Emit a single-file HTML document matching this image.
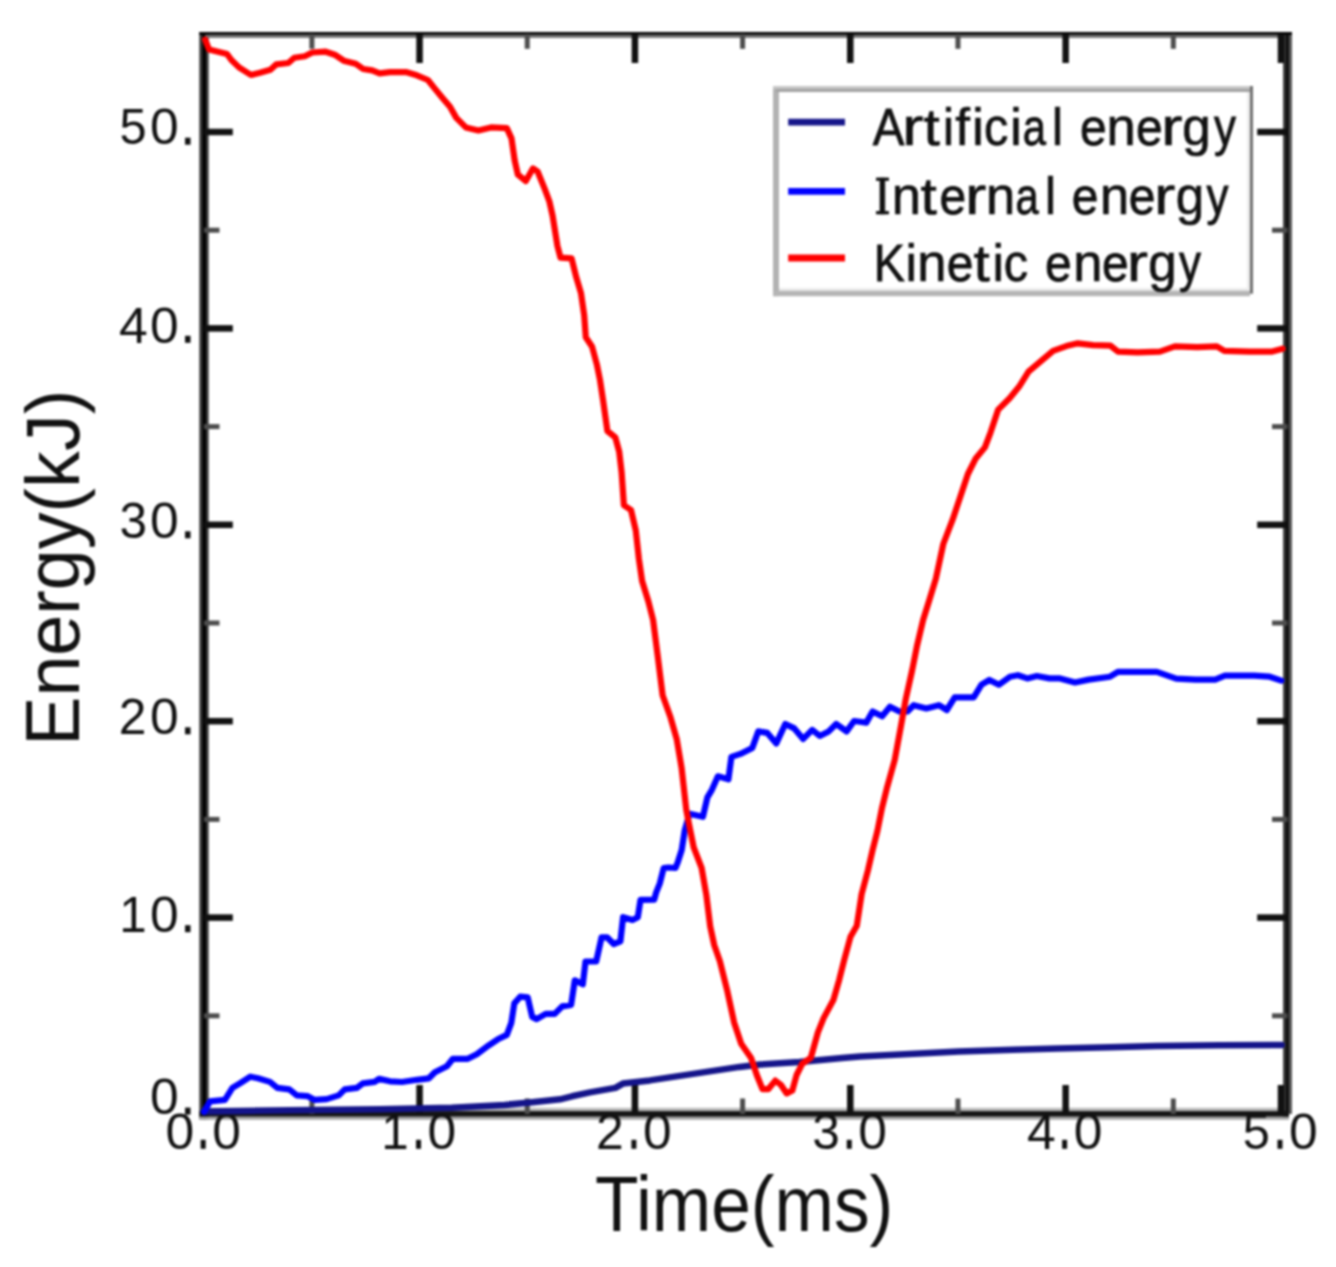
<!DOCTYPE html>
<html><head><meta charset="utf-8"><style>
html,body{margin:0;padding:0;background:#fff;}
body{width:1336px;height:1267px;overflow:hidden;}
svg{display:block;font-family:"Liberation Sans",sans-serif;}
</style></head><body>
<svg width="1336" height="1267" viewBox="0 0 1336 1267">
<defs><filter id="b" x="0" y="0" width="1" height="1" color-interpolation-filters="sRGB"><feGaussianBlur stdDeviation="1.0"/></filter></defs>
<rect x="0" y="0" width="1336" height="1267" fill="#fff"/>
<g filter="url(#b)">
<rect x="0" y="0" width="1336" height="1267" fill="#fff"/>
<g>
<rect x="199.3" y="32" width="9.4" height="1087.5" fill="#3a3a3a"/>
<rect x="202.4" y="32" width="3.6" height="1087.5" fill="#000"/>
<rect x="1283.1" y="32" width="3" height="1085" fill="#333"/>
<rect x="1286.1" y="32" width="2.8" height="1085" fill="#000"/>
<rect x="1288.9" y="32" width="3.1" height="1082" fill="#555"/>
<rect x="199.3" y="32" width="1092.7" height="2.9" fill="#050505"/>
<rect x="205" y="34.9" width="1078" height="3" fill="#717171"/>
<rect x="205" y="1107.8" width="1078" height="3.3" fill="#bbb"/>
<rect x="199.3" y="1111.1" width="1089.6" height="5.7" fill="#151515"/>
<rect x="199.3" y="1116.8" width="1089.6" height="3" fill="#a6a6a6"/>
<rect x="309.38" y="1098.50" width="5" height="15.50" fill="#4d4d4d"/>
<rect x="309.38" y="34.00" width="5" height="14.80" fill="#4d4d4d"/>
<rect x="416.31" y="1085.00" width="6.5" height="29.00" fill="#111"/>
<rect x="416.31" y="34.00" width="6.5" height="29.00" fill="#111"/>
<rect x="524.74" y="1098.50" width="5" height="15.50" fill="#4d4d4d"/>
<rect x="524.74" y="34.00" width="5" height="14.80" fill="#4d4d4d"/>
<rect x="631.67" y="1085.00" width="6.5" height="29.00" fill="#111"/>
<rect x="631.67" y="34.00" width="6.5" height="29.00" fill="#111"/>
<rect x="740.10" y="1098.50" width="5" height="15.50" fill="#4d4d4d"/>
<rect x="740.10" y="34.00" width="5" height="14.80" fill="#4d4d4d"/>
<rect x="847.03" y="1085.00" width="6.5" height="29.00" fill="#111"/>
<rect x="847.03" y="34.00" width="6.5" height="29.00" fill="#111"/>
<rect x="955.46" y="1098.50" width="5" height="15.50" fill="#4d4d4d"/>
<rect x="955.46" y="34.00" width="5" height="14.80" fill="#4d4d4d"/>
<rect x="1062.39" y="1085.00" width="6.5" height="29.00" fill="#111"/>
<rect x="1062.39" y="34.00" width="6.5" height="29.00" fill="#111"/>
<rect x="1170.82" y="1098.50" width="5" height="15.50" fill="#4d4d4d"/>
<rect x="1170.82" y="34.00" width="5" height="14.80" fill="#4d4d4d"/>
<rect x="1277.75" y="1085.00" width="6.5" height="29.00" fill="#111"/>
<rect x="1277.75" y="34.00" width="6.5" height="29.00" fill="#111"/>
<rect x="204.00" y="1013.30" width="15.50" height="5" fill="#4d4d4d"/>
<rect x="1272.00" y="1013.30" width="15.50" height="5" fill="#4d4d4d"/>
<rect x="204.00" y="914.35" width="28.80" height="6.5" fill="#111"/>
<rect x="1257.20" y="914.35" width="30.30" height="6.5" fill="#111"/>
<rect x="204.00" y="816.90" width="15.50" height="5" fill="#4d4d4d"/>
<rect x="1272.00" y="816.90" width="15.50" height="5" fill="#4d4d4d"/>
<rect x="204.00" y="717.95" width="28.80" height="6.5" fill="#111"/>
<rect x="1257.20" y="717.95" width="30.30" height="6.5" fill="#111"/>
<rect x="204.00" y="620.50" width="15.50" height="5" fill="#4d4d4d"/>
<rect x="1272.00" y="620.50" width="15.50" height="5" fill="#4d4d4d"/>
<rect x="204.00" y="521.55" width="28.80" height="6.5" fill="#111"/>
<rect x="1257.20" y="521.55" width="30.30" height="6.5" fill="#111"/>
<rect x="204.00" y="424.10" width="15.50" height="5" fill="#4d4d4d"/>
<rect x="1272.00" y="424.10" width="15.50" height="5" fill="#4d4d4d"/>
<rect x="204.00" y="325.15" width="28.80" height="6.5" fill="#111"/>
<rect x="1257.20" y="325.15" width="30.30" height="6.5" fill="#111"/>
<rect x="204.00" y="227.70" width="15.50" height="5" fill="#4d4d4d"/>
<rect x="1272.00" y="227.70" width="15.50" height="5" fill="#4d4d4d"/>
<rect x="204.00" y="128.75" width="28.80" height="6.5" fill="#111"/>
<rect x="1257.20" y="128.75" width="30.30" height="6.5" fill="#111"/>
</g>
<g fill="#111">
<text transform="translate(133.01,144.40) scale(0.985,1)" x="-13.72" font-size="49.5" fill="#111">5</text>
<text transform="translate(164.42,144.40) scale(1.043,1)" x="-13.76" font-size="49.5" fill="#111">0</text>
<rect x="185.04" y="137.70" width="5.5" height="7.0" fill="#111"/>
<text transform="translate(133.08,342.50) scale(1.044,1)" x="-13.61" font-size="49.5" fill="#111">4</text>
<text transform="translate(164.42,342.50) scale(1.043,1)" x="-13.76" font-size="49.5" fill="#111">0</text>
<rect x="185.04" y="335.80" width="5.5" height="7.0" fill="#111"/>
<text transform="translate(133.17,538.00) scale(1.002,1)" x="-13.62" font-size="49.5" fill="#111">3</text>
<text transform="translate(164.42,538.00) scale(1.043,1)" x="-13.76" font-size="49.5" fill="#111">0</text>
<rect x="185.04" y="531.30" width="5.5" height="7.0" fill="#111"/>
<text transform="translate(132.60,734.00) scale(1.006,1)" x="-13.76" font-size="49.5" fill="#111">2</text>
<text transform="translate(164.42,734.00) scale(1.043,1)" x="-13.76" font-size="49.5" fill="#111">0</text>
<rect x="185.04" y="727.30" width="5.5" height="7.0" fill="#111"/>
<text transform="translate(133.69,931.90) scale(0.997,1)" x="-14.44" font-size="49.5" fill="#111">1</text>
<text transform="translate(164.42,931.90) scale(1.043,1)" x="-13.76" font-size="49.5" fill="#111">0</text>
<rect x="185.04" y="925.20" width="5.5" height="7.0" fill="#111"/>
<text transform="translate(164.42,1114.30) scale(1.043,1)" x="-13.76" font-size="49.5" fill="#111">0</text>
<rect x="185.04" y="1107.60" width="5.5" height="7.0" fill="#111"/>
<text transform="translate(179.81,1148.50) scale(1.043,1)" x="-13.76" font-size="49.5" fill="#111">0</text>
<rect x="200.68" y="1139.80" width="5.0" height="9.0" fill="#111"/>
<text transform="translate(226.56,1148.50) scale(1.043,1)" x="-13.76" font-size="49.5" fill="#111">0</text>
<text transform="translate(395.62,1148.50) scale(0.997,1)" x="-14.44" font-size="49.5" fill="#111">1</text>
<rect x="416.04" y="1139.80" width="5.0" height="9.0" fill="#111"/>
<text transform="translate(441.92,1148.50) scale(1.043,1)" x="-13.76" font-size="49.5" fill="#111">0</text>
<text transform="translate(609.89,1148.50) scale(1.006,1)" x="-13.76" font-size="49.5" fill="#111">2</text>
<rect x="631.40" y="1139.80" width="5.0" height="9.0" fill="#111"/>
<text transform="translate(657.28,1148.50) scale(1.043,1)" x="-13.76" font-size="49.5" fill="#111">0</text>
<text transform="translate(825.81,1148.50) scale(1.002,1)" x="-13.62" font-size="49.5" fill="#111">3</text>
<rect x="846.76" y="1139.80" width="5.0" height="9.0" fill="#111"/>
<text transform="translate(872.64,1148.50) scale(1.043,1)" x="-13.76" font-size="49.5" fill="#111">0</text>
<text transform="translate(1041.09,1148.50) scale(1.044,1)" x="-13.61" font-size="49.5" fill="#111">4</text>
<rect x="1062.12" y="1139.80" width="5.0" height="9.0" fill="#111"/>
<text transform="translate(1088.00,1148.50) scale(1.043,1)" x="-13.76" font-size="49.5" fill="#111">0</text>
<text transform="translate(1256.37,1148.50) scale(0.985,1)" x="-13.72" font-size="49.5" fill="#111">5</text>
<rect x="1277.48" y="1139.80" width="5.0" height="9.0" fill="#111"/>
<text transform="translate(1303.36,1148.50) scale(1.043,1)" x="-13.76" font-size="49.5" fill="#111">0</text>
<text transform="translate(595.1,1230.5) scale(0.926,1)" font-size="77">Time(ms)</text>
<text transform="translate(79,745.7) rotate(-90) scale(0.974,1)" font-size="75.6">Energy(kJ)</text>
</g>
<g fill="none" stroke-linejoin="round" stroke-linecap="round">
<polyline points="204.0,1111.5 290.0,1110.2 380.0,1109.3 451.9,1107.8 504.6,1104.9 530.0,1102.6 560.0,1099.3 572.0,1096.3 589.9,1092.4 615.4,1087.9 622.9,1083.6 649.8,1080.4 679.8,1075.9 709.7,1071.4 739.6,1066.9 760.0,1064.6 799.4,1062.0 842.1,1058.0 860.0,1056.6 958.8,1051.6 1057.6,1048.4 1110.0,1047.3 1156.4,1046.0 1220.0,1045.2 1281.6,1044.9" stroke="#14148a" stroke-width="6.5"/>
<polyline points="204.0,1111.9 210.0,1101.4 224.9,1099.9 232.4,1087.9 239.9,1083.4 250.4,1076.7 257.9,1078.2 269.9,1081.9 277.3,1087.9 289.3,1089.4 296.8,1095.4 307.3,1096.1 314.8,1099.9 326.7,1099.1 338.7,1095.4 344.7,1089.4 356.7,1087.9 362.7,1083.4 374.6,1081.9 379.1,1078.9 390.0,1081.3 402.0,1082.0 416.9,1079.8 428.9,1078.3 434.9,1072.3 446.9,1066.3 452.9,1058.8 467.8,1058.8 476.8,1054.3 488.8,1045.3 497.8,1039.3 506.8,1034.9 511.3,1022.9 514.3,1003.4 520.2,996.7 527.7,997.4 532.2,1016.9 536.7,1019.1 545.7,1013.9 554.7,1013.9 562.2,1006.4 571.1,1004.9 574.8,980.3 582.8,984.3 585.5,961.5 596.2,961.5 601.6,937.3 607.0,937.3 613.7,944.0 620.4,941.4 623.1,917.2 632.5,919.9 637.8,917.2 640.5,899.8 654.2,899.7 656.1,892.6 659.9,883.1 663.7,868.0 668.4,867.5 675.5,868.0 677.9,861.8 681.7,850.0 684.8,830.0 689.5,813.8 702.9,816.8 707.4,797.3 711.9,789.8 717.9,776.3 728.4,779.3 731.4,756.9 740.4,753.9 752.3,747.9 758.3,731.4 767.3,732.9 776.3,743.4 785.3,724.0 794.3,728.4 803.2,738.9 812.2,729.9 819.7,735.9 828.7,731.4 836.2,724.0 846.6,731.4 854.1,721.0 860.0,721.8 866.3,722.6 872.6,711.5 882.1,716.3 890.0,706.8 899.5,711.5 907.4,711.5 913.7,705.2 926.3,708.4 938.9,705.2 946.8,710.0 954.7,697.3 973.7,697.3 981.5,684.7 989.4,680.0 998.9,684.7 1010.0,676.8 1017.9,675.2 1027.3,678.4 1036.8,676.0 1049.4,678.4 1060.0,678.4 1075.0,682.5 1088.7,679.6 1110.0,676.7 1117.9,671.8 1137.3,671.8 1156.8,671.8 1176.2,678.7 1195.7,679.6 1215.2,679.6 1224.9,675.7 1254.1,675.7 1269.7,676.7 1281.3,680.6" stroke="#0000ff" stroke-width="6.2"/>
<polyline points="205.2,39.7 209.0,49.5 218.0,51.7 227.0,54.0 231.4,60.0 239.0,67.4 251.0,75.0 260.0,72.7 270.4,69.7 276.3,64.4 288.3,63.0 294.3,57.7 304.8,56.2 312.3,52.5 325.7,51.7 334.7,54.7 343.7,60.7 355.7,63.7 363.2,69.0 372.2,70.4 379.6,73.4 390.0,72.1 405.8,72.1 416.8,75.3 427.9,80.0 434.2,87.9 442.1,97.4 450.0,106.8 456.3,117.9 465.8,127.4 478.4,130.5 491.0,127.4 506.8,128.1 511.5,138.4 514.7,160.5 517.9,174.7 525.8,181.0 532.9,168.4 537.6,171.5 544.7,188.9 549.4,201.5 552.6,215.7 557.4,245.8 560.5,257.6 571.6,258.4 576.3,277.4 581.0,293.1 584.2,315.2 585.8,337.3 592.1,346.8 596.8,364.2 600.0,380.0 603.1,400.5 607.4,431.0 615.3,437.4 619.2,451.6 621.6,472.1 623.9,505.2 631.0,510.0 635.8,530.5 638.9,558.9 642.1,581.0 648.4,601.5 653.1,620.0 657.9,657.4 662.6,695.2 670.5,717.3 676.8,739.4 681.6,767.9 686.3,810.0 688.9,823.7 693.7,847.4 701.6,867.9 706.3,894.7 710.2,926.3 714.2,945.0 719.9,961.3 727.0,989.7 734.1,1022.4 741.2,1043.7 751.1,1057.9 756.8,1075.0 762.5,1089.2 768.2,1089.2 775.3,1080.6 781.0,1084.9 786.7,1093.4 792.3,1090.6 796.6,1075.0 802.3,1063.6 810.8,1057.9 817.9,1032.3 823.6,1018.1 833.5,999.7 839.2,979.8 844.2,960.0 850.5,936.8 856.8,925.7 861.6,894.2 867.9,870.5 872.6,850.0 877.4,831.0 882.1,807.4 886.8,788.4 894.7,760.0 901.0,725.7 905.8,698.9 912.1,670.5 916.8,646.8 923.1,620.0 929.5,599.5 935.8,578.9 943.3,544.0 952.7,519.4 960.3,496.7 967.9,474.0 975.5,458.8 984.9,447.4 990.6,432.3 998.2,409.6 1009.6,398.2 1019.0,386.8 1028.5,371.7 1041.8,360.3 1053.1,350.8 1066.4,346.1 1077.8,343.3 1092.9,345.2 1110.5,345.7 1118.0,351.6 1137.4,352.4 1159.9,351.6 1174.9,346.4 1197.3,347.2 1216.8,346.4 1224.3,350.9 1249.7,351.6 1272.2,351.6 1282.6,348.7" stroke="#ff0000" stroke-width="6.2"/>
</g>
<rect x="773" y="86" width="480" height="210.2" fill="#fff"/>
<rect x="773" y="86" width="6" height="210.2" fill="#b2b2b2"/>
<rect x="773" y="86" width="480" height="3" fill="#c6c6c6"/>
<rect x="776" y="89" width="474" height="3" fill="#a2a2a2"/>
<rect x="1250" y="86" width="3" height="207.7" fill="#707070"/>
<rect x="779" y="288" width="468" height="2.8" fill="#ececec"/>
<rect x="1247" y="92" width="3" height="198.8" fill="#ececec"/>
<rect x="773" y="290.8" width="477" height="5.4" fill="#b5b5b5"/>
<g stroke-width="6.8">
<line x1="788.2" y1="122.2" x2="845" y2="122.2" stroke="#16168a"/>
<line x1="788.2" y1="191.3" x2="845" y2="191.3" stroke="#0000ff"/>
<line x1="788.2" y1="258" x2="845" y2="258" stroke="#ff0000"/>
</g>
<text transform="translate(888.60,144.50) scale(0.921,1)" x="-17.21" font-size="51.6" fill="#111" stroke="#111" stroke-width="0.76">A</text>
<text transform="translate(914.50,144.50) scale(1.240,1)" x="-9.88" font-size="51.6" fill="#111" stroke="#111" stroke-width="0.56">r</text>
<text transform="translate(932.00,144.50) scale(1.138,1)" x="-7.37" font-size="51.6" fill="#111" stroke="#111" stroke-width="0.61">t</text>
<text transform="translate(948.50,144.50) scale(1.000,1)" x="-5.72" font-size="51.6" fill="#111" stroke="#111" stroke-width="0.70">i</text>
<text transform="translate(963.00,144.50) scale(1.023,1)" x="-7.57" font-size="51.6" fill="#111" stroke="#111" stroke-width="0.68">f</text>
<text transform="translate(977.90,144.50) scale(1.000,1)" x="-5.72" font-size="51.6" fill="#111" stroke="#111" stroke-width="0.70">i</text>
<text transform="translate(996.60,144.50) scale(0.944,1)" x="-13.32" font-size="51.6" fill="#111" stroke="#111" stroke-width="0.74">c</text>
<text transform="translate(1015.90,144.50) scale(1.000,1)" x="-5.72" font-size="51.6" fill="#111" stroke="#111" stroke-width="0.70">i</text>
<text transform="translate(1035.20,144.50) scale(0.811,1)" x="-15.44" font-size="51.6" fill="#111" stroke="#111" stroke-width="0.86">a</text>
<text transform="translate(1057.40,144.50) scale(1.000,1)" x="-5.74" font-size="51.6" fill="#111" stroke="#111" stroke-width="0.70">l</text>
<text transform="translate(1093.20,144.50) scale(0.929,1)" x="-14.30" font-size="51.6" fill="#111" stroke="#111" stroke-width="0.75">e</text>
<text transform="translate(1121.10,144.50) scale(1.017,1)" x="-14.39" font-size="51.6" fill="#111" stroke="#111" stroke-width="0.69">n</text>
<text transform="translate(1149.40,144.50) scale(0.929,1)" x="-14.30" font-size="51.6" fill="#111" stroke="#111" stroke-width="0.75">e</text>
<text transform="translate(1173.50,144.50) scale(1.240,1)" x="-9.88" font-size="51.6" fill="#111" stroke="#111" stroke-width="0.56">r</text>
<text transform="translate(1196.00,144.50) scale(0.991,1)" x="-13.77" font-size="51.6" fill="#111" stroke="#111" stroke-width="0.71">g</text>
<text transform="translate(1224.90,144.50) scale(0.852,1)" x="-12.91" font-size="51.6" fill="#111" stroke="#111" stroke-width="0.82">y</text>
<text transform="translate(882.30,214.30) scale(1.000,1)" x="-7.17" font-size="51.6" fill="#111" stroke="#111" stroke-width="0.70">I</text>
<text transform="translate(906.30,214.30) scale(1.017,1)" x="-14.39" font-size="51.6" fill="#111" stroke="#111" stroke-width="0.69">n</text>
<text transform="translate(928.80,214.30) scale(1.138,1)" x="-7.37" font-size="51.6" fill="#111" stroke="#111" stroke-width="0.61">t</text>
<text transform="translate(952.70,214.30) scale(0.929,1)" x="-14.30" font-size="51.6" fill="#111" stroke="#111" stroke-width="0.75">e</text>
<text transform="translate(977.30,214.30) scale(1.240,1)" x="-9.88" font-size="51.6" fill="#111" stroke="#111" stroke-width="0.56">r</text>
<text transform="translate(1000.70,214.30) scale(1.017,1)" x="-14.39" font-size="51.6" fill="#111" stroke="#111" stroke-width="0.69">n</text>
<text transform="translate(1028.00,214.30) scale(0.811,1)" x="-15.44" font-size="51.6" fill="#111" stroke="#111" stroke-width="0.86">a</text>
<text transform="translate(1050.50,214.30) scale(1.000,1)" x="-5.74" font-size="51.6" fill="#111" stroke="#111" stroke-width="0.70">l</text>
<text transform="translate(1085.10,214.30) scale(0.929,1)" x="-14.30" font-size="51.6" fill="#111" stroke="#111" stroke-width="0.75">e</text>
<text transform="translate(1114.60,214.30) scale(1.017,1)" x="-14.39" font-size="51.6" fill="#111" stroke="#111" stroke-width="0.69">n</text>
<text transform="translate(1142.10,214.30) scale(0.929,1)" x="-14.30" font-size="51.6" fill="#111" stroke="#111" stroke-width="0.75">e</text>
<text transform="translate(1166.30,214.30) scale(1.240,1)" x="-9.88" font-size="51.6" fill="#111" stroke="#111" stroke-width="0.56">r</text>
<text transform="translate(1189.30,214.30) scale(0.991,1)" x="-13.77" font-size="51.6" fill="#111" stroke="#111" stroke-width="0.71">g</text>
<text transform="translate(1217.40,214.30) scale(0.852,1)" x="-12.91" font-size="51.6" fill="#111" stroke="#111" stroke-width="0.82">y</text>
<text transform="translate(891.00,280.80) scale(0.905,1)" x="-19.04" font-size="51.6" fill="#111" stroke="#111" stroke-width="0.77">K</text>
<text transform="translate(911.10,280.80) scale(1.000,1)" x="-5.72" font-size="51.6" fill="#111" stroke="#111" stroke-width="0.70">i</text>
<text transform="translate(931.80,280.80) scale(1.017,1)" x="-14.39" font-size="51.6" fill="#111" stroke="#111" stroke-width="0.69">n</text>
<text transform="translate(960.10,280.80) scale(0.929,1)" x="-14.30" font-size="51.6" fill="#111" stroke="#111" stroke-width="0.75">e</text>
<text transform="translate(981.90,280.80) scale(1.138,1)" x="-7.37" font-size="51.6" fill="#111" stroke="#111" stroke-width="0.61">t</text>
<text transform="translate(998.10,280.80) scale(1.000,1)" x="-5.72" font-size="51.6" fill="#111" stroke="#111" stroke-width="0.70">i</text>
<text transform="translate(1016.20,280.80) scale(0.944,1)" x="-13.32" font-size="51.6" fill="#111" stroke="#111" stroke-width="0.74">c</text>
<text transform="translate(1058.40,280.80) scale(0.929,1)" x="-14.30" font-size="51.6" fill="#111" stroke="#111" stroke-width="0.75">e</text>
<text transform="translate(1087.80,280.80) scale(1.017,1)" x="-14.39" font-size="51.6" fill="#111" stroke="#111" stroke-width="0.69">n</text>
<text transform="translate(1115.30,280.80) scale(0.929,1)" x="-14.30" font-size="51.6" fill="#111" stroke="#111" stroke-width="0.75">e</text>
<text transform="translate(1139.00,280.80) scale(1.240,1)" x="-9.88" font-size="51.6" fill="#111" stroke="#111" stroke-width="0.56">r</text>
<text transform="translate(1161.90,280.80) scale(0.991,1)" x="-13.77" font-size="51.6" fill="#111" stroke="#111" stroke-width="0.71">g</text>
<text transform="translate(1190.10,280.80) scale(0.852,1)" x="-12.91" font-size="51.6" fill="#111" stroke="#111" stroke-width="0.82">y</text>
<rect x="876" y="177.6" width="13" height="3.2" fill="#111"/>
<rect x="876" y="211.1" width="13" height="3.2" fill="#111"/>
</g>
</svg>
</body></html>
